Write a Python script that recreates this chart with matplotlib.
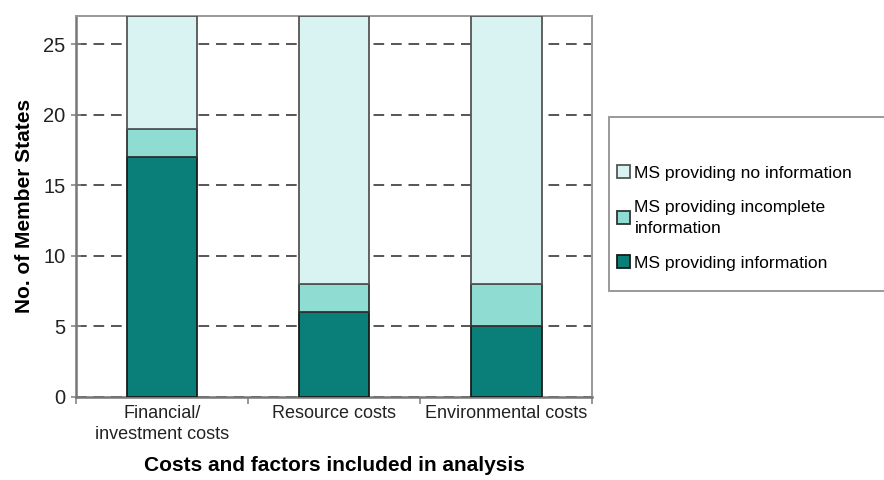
import numpy as np
import matplotlib
matplotlib.use("Agg")
import matplotlib.pyplot as plt
from matplotlib.patches import Rectangle

plt.rcParams["font.family"] = ["Liberation Sans", "DejaVu Sans"]

# Data
categories = ["Financial/\ninvestment costs", "Resource costs", "Environmental costs"]
ms_info = [17, 6, 5]
ms_incomplete = [2, 2, 3]
ms_none = [8, 19, 19]

labels = ["MS providing information", "MS providing incomplete\ninformation",
          "MS providing no information"]
colors = ["#0a7f79", "#8fdcd3", "#d8f3f2"]
edges = ["#1a1a1a", "#333333", "#555555"]

fig = plt.figure(figsize=(8.84, 4.8), dpi=100)
ax = fig.add_axes([0.086, 0.173, 0.584, 0.794])

x = np.arange(len(categories))
width = 0.41
bottom = np.zeros(len(categories))
handles = []
for vals, lab, col, ec in zip([ms_info, ms_incomplete, ms_none], labels, colors, edges):
    b = ax.bar(x, vals, width, bottom=bottom, color=col, edgecolor=ec,
               linewidth=1.3, label=lab, zorder=3)
    handles.append(b)
    bottom += np.array(vals)

# axes styling
ax.set_xlim(-0.5, 2.5)
ax.set_ylim(0, 27)
ax.set_yticks([0, 5, 10, 15, 20, 25])
ax.yaxis.grid(True, linestyle=(0, (5.5, 3.5)), color="#555555", linewidth=1.4, zorder=1)
ax.set_xticks(x)
ax.set_xticklabels(categories, fontsize=13, color="#222222", linespacing=1.3)
ax.set_xticks([-0.5, 0.5, 1.5, 2.5], minor=True)
ax.tick_params(axis="x", which="major", length=0, pad=6)
ax.tick_params(axis="x", which="minor", length=5, color="#888888", width=1.2)
ax.tick_params(axis="y", labelsize=14.5, length=7, direction="inout",
               color="#888888", width=1.2, pad=4, labelcolor="#222222")
for side in ["left", "bottom"]:
    ax.spines[side].set_color("#777777")
    ax.spines[side].set_linewidth(1.8)
for side in ["top", "right"]:
    ax.spines[side].set_color("#999999")
    ax.spines[side].set_linewidth(1.4)

ax.set_ylabel("No. of Member States", fontsize=15, fontweight="bold", labelpad=7)
ax.set_xlabel("Costs and factors included in analysis", fontsize=15,
              fontweight="bold", labelpad=9)

# legend box, running off the right edge
fig.patches.append(Rectangle((609 / 884, 1 - 291 / 480), 0.4, 174 / 480,
                             transform=fig.transFigure, facecolor="white",
                             edgecolor="#999999", linewidth=1.4, zorder=0))
leg = fig.legend(handles[::-1], labels[::-1], loc="upper left",
                 bbox_to_anchor=(617 / 884, 1 - 165 / 480), fontsize=12.6,
                 frameon=False, handlelength=0.75, handleheight=0.75,
                 handletextpad=0.25, labelspacing=1.1, borderpad=0,
                 borderaxespad=0)
for t in leg.get_texts():
    t.set_linespacing(1.5)

fig.savefig("out.png", dpi=100)
